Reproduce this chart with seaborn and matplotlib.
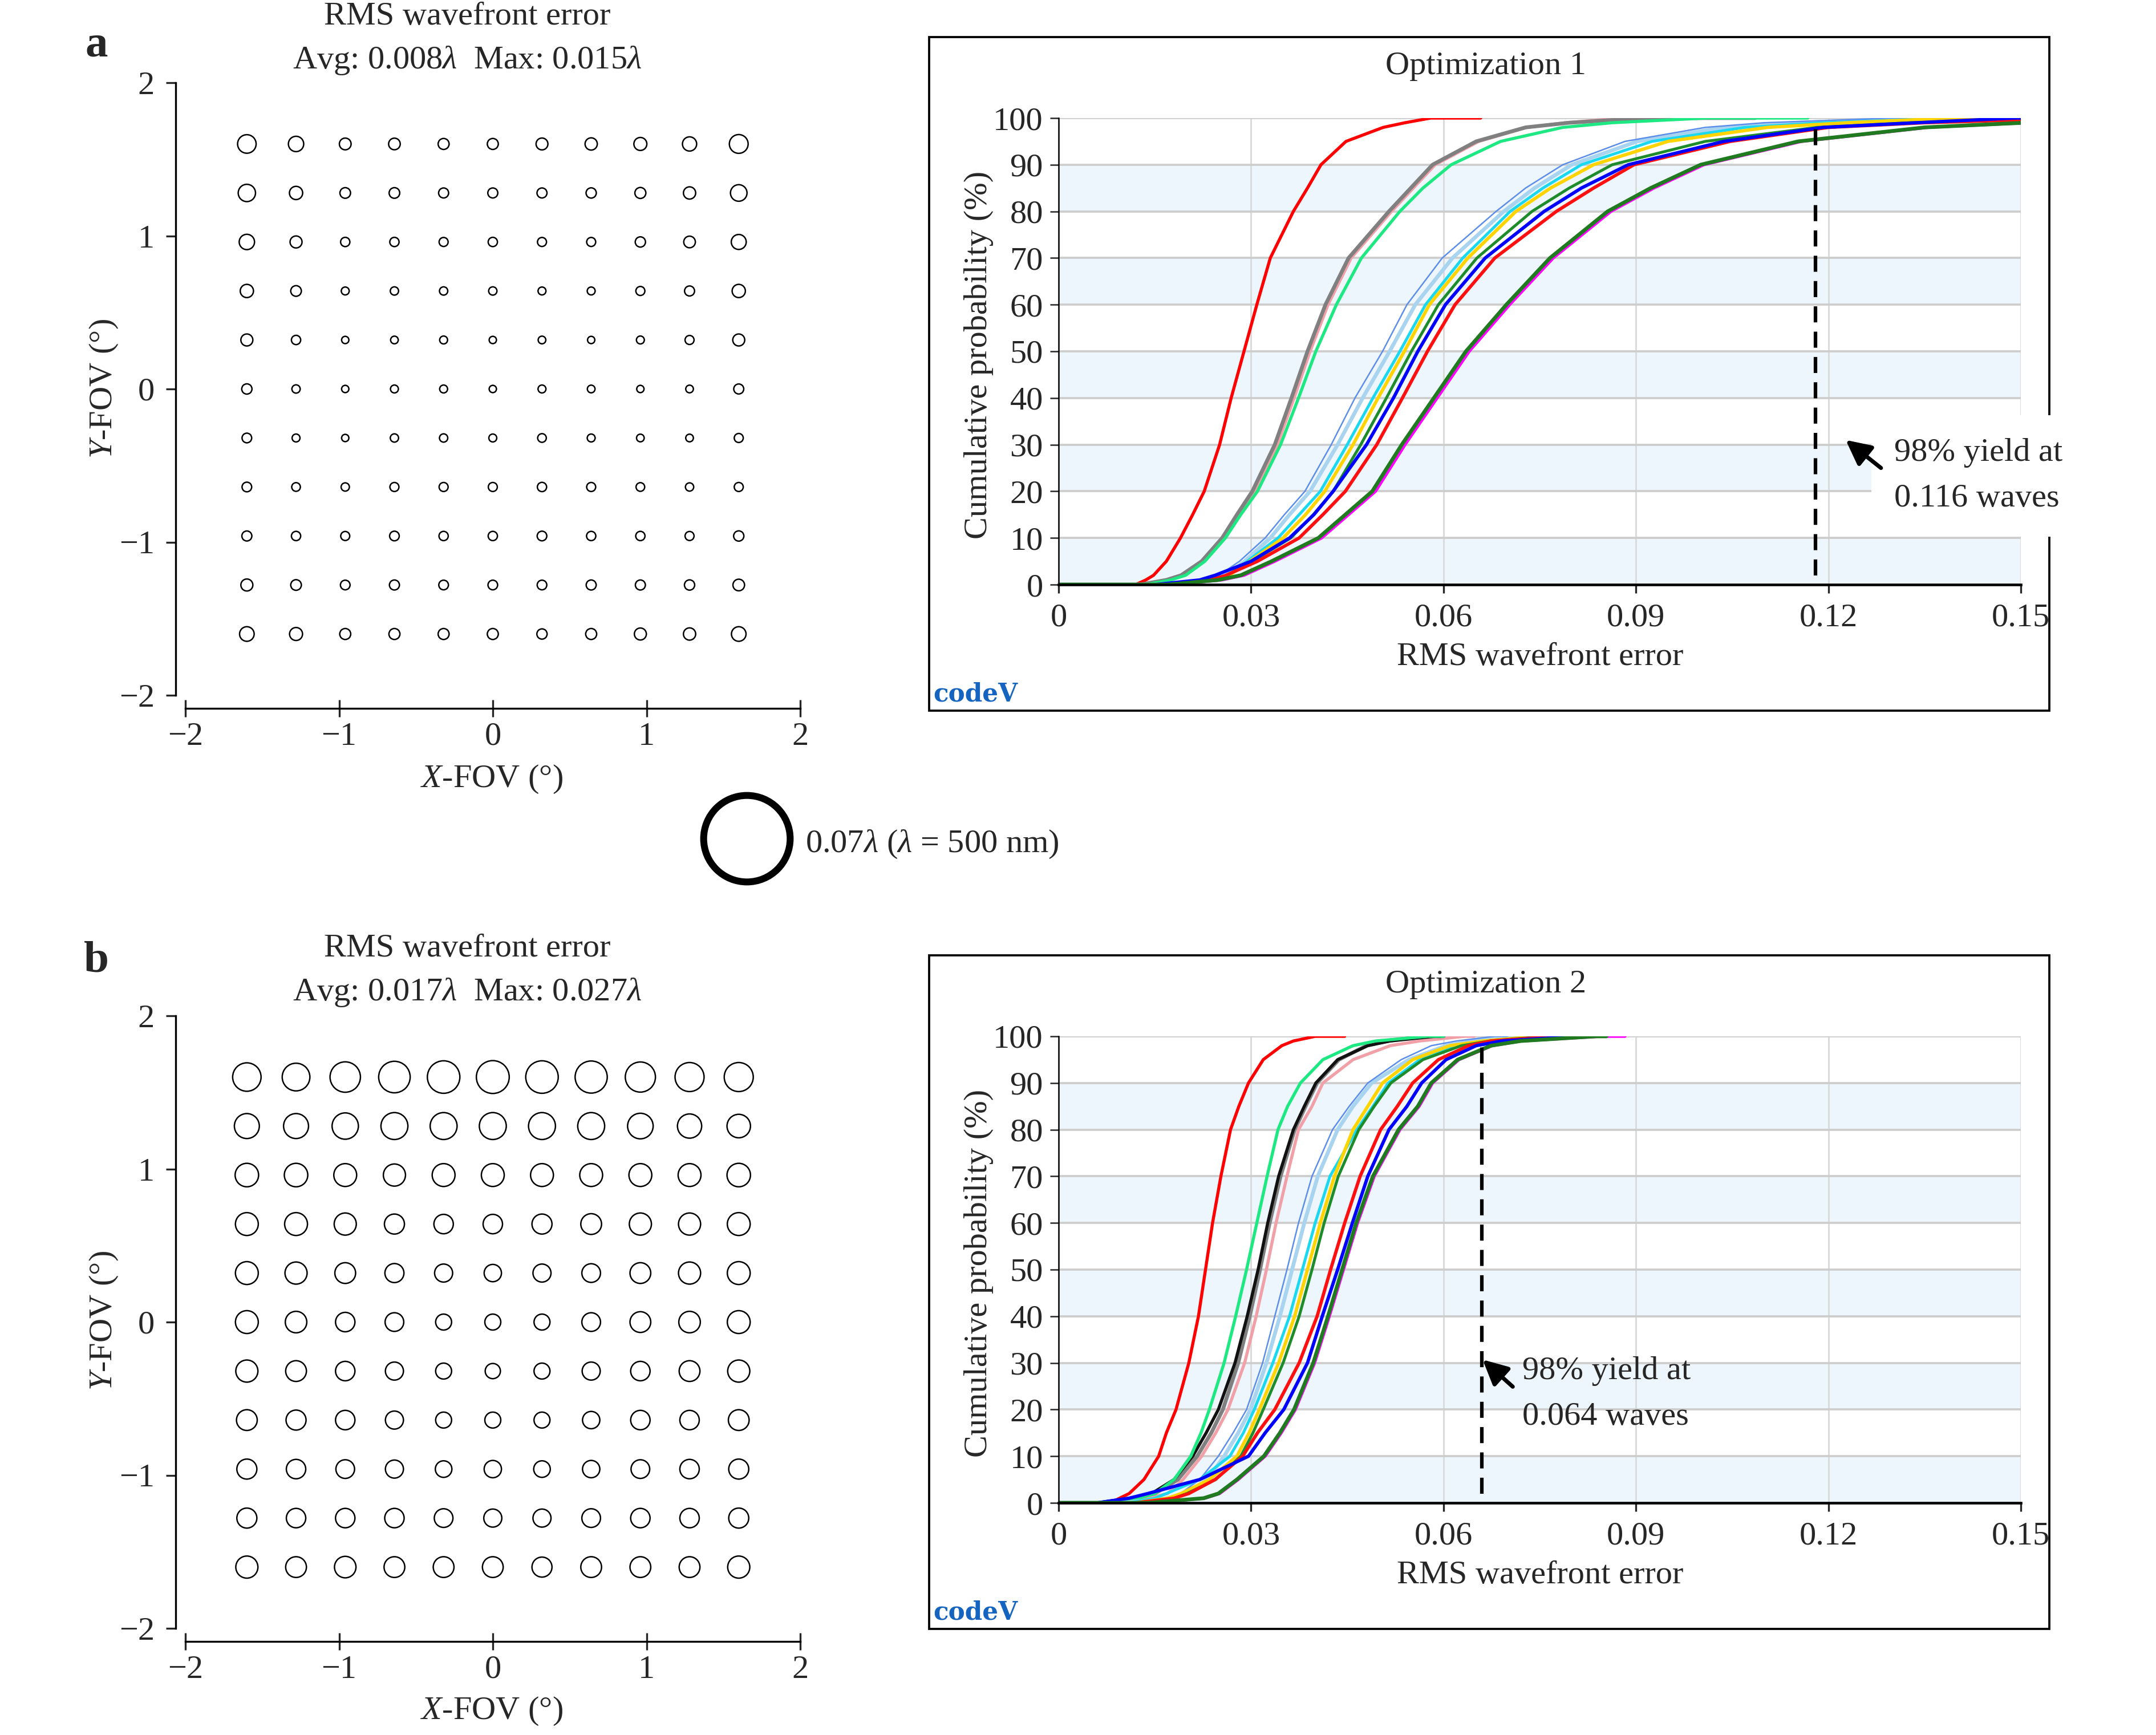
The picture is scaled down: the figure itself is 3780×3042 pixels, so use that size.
import numpy as np
import pandas as pd
import seaborn as sns
import matplotlib.pyplot as plt
from matplotlib.patches import Rectangle

# figure size in pixels (saved at 300 dpi)
W, H = 3780, 3042
DPI = 300

# field grid (deg), rows of the maps go from +1.6 (top) to -1.6 (bottom)
FIELD_POS = [-1.6, -1.28, -0.96, -0.64, -0.32, 0.0, 0.32, 0.64, 0.96, 1.28, 1.6]

# RMS wavefront error per field point (waves), optimization 1
RMS_A = [
    [0.0150, 0.0124, 0.0095, 0.0094, 0.0089, 0.0089, 0.0096, 0.0099, 0.0105, 0.0115, 0.0152],
    [0.0140, 0.0107, 0.0086, 0.0086, 0.0081, 0.0081, 0.0081, 0.0083, 0.0089, 0.0099, 0.0134],
    [0.0124, 0.0097, 0.0075, 0.0075, 0.0073, 0.0075, 0.0073, 0.0073, 0.0083, 0.0094, 0.0121],
    [0.0107, 0.0086, 0.0064, 0.0067, 0.0067, 0.0067, 0.0064, 0.0064, 0.0073, 0.0081, 0.0107],
    [0.0097, 0.0075, 0.0059, 0.0062, 0.0064, 0.0059, 0.0062, 0.0059, 0.0064, 0.0073, 0.0097],
    [0.0083, 0.0067, 0.0059, 0.0064, 0.0064, 0.0059, 0.0064, 0.0062, 0.0059, 0.0062, 0.0081],
    [0.0078, 0.0064, 0.0059, 0.0067, 0.0067, 0.0064, 0.0070, 0.0064, 0.0062, 0.0062, 0.0073],
    [0.0078, 0.0070, 0.0067, 0.0073, 0.0073, 0.0073, 0.0075, 0.0073, 0.0070, 0.0067, 0.0073],
    [0.0081, 0.0075, 0.0073, 0.0078, 0.0075, 0.0075, 0.0078, 0.0075, 0.0075, 0.0073, 0.0083],
    [0.0097, 0.0086, 0.0078, 0.0081, 0.0078, 0.0078, 0.0078, 0.0081, 0.0081, 0.0083, 0.0094],
    [0.0118, 0.0105, 0.0089, 0.0089, 0.0089, 0.0089, 0.0083, 0.0089, 0.0097, 0.0099, 0.0118],
]

# RMS wavefront error per field point (waves), optimization 2
RMS_B = [
    [0.0230, 0.0224, 0.0246, 0.0255, 0.0263, 0.0266, 0.0263, 0.0260, 0.0244, 0.0235, 0.0235],
    [0.0202, 0.0202, 0.0213, 0.0218, 0.0218, 0.0218, 0.0218, 0.0218, 0.0207, 0.0196, 0.0190],
    [0.0190, 0.0190, 0.0185, 0.0179, 0.0185, 0.0185, 0.0185, 0.0185, 0.0185, 0.0185, 0.0190],
    [0.0185, 0.0185, 0.0179, 0.0162, 0.0157, 0.0157, 0.0162, 0.0168, 0.0179, 0.0179, 0.0185],
    [0.0185, 0.0179, 0.0168, 0.0154, 0.0146, 0.0140, 0.0146, 0.0151, 0.0168, 0.0179, 0.0185],
    [0.0185, 0.0174, 0.0157, 0.0151, 0.0129, 0.0129, 0.0129, 0.0151, 0.0168, 0.0174, 0.0185],
    [0.0179, 0.0168, 0.0157, 0.0146, 0.0129, 0.0123, 0.0129, 0.0146, 0.0157, 0.0168, 0.0179],
    [0.0168, 0.0162, 0.0157, 0.0146, 0.0129, 0.0129, 0.0129, 0.0140, 0.0157, 0.0157, 0.0168],
    [0.0162, 0.0157, 0.0151, 0.0146, 0.0134, 0.0140, 0.0134, 0.0140, 0.0151, 0.0157, 0.0162],
    [0.0162, 0.0157, 0.0157, 0.0157, 0.0151, 0.0146, 0.0146, 0.0151, 0.0157, 0.0157, 0.0162],
    [0.0179, 0.0168, 0.0174, 0.0168, 0.0168, 0.0168, 0.0162, 0.0168, 0.0168, 0.0168, 0.0179],
]

RMS_KEY = 0.07  # reference circle (waves)

# cumulative probability levels (%) at which each curve's RMS error was read
PROB_LEVELS = [0, 0, 1, 2, 5, 10, 15, 20, 30, 40, 50, 60, 70, 80, 85, 90, 95, 98, 99, 100, 100]

OPT1 = {
    "red_a":      [0, 0.0120, 0.0136, 0.0148, 0.0168, 0.0190, 0.0209, 0.0227, 0.0251, 0.0269, 0.0289, 0.0309, 0.0330, 0.0366, 0.0388, 0.0409, 0.0448, 0.0506, 0.0540, 0.0580, 0.0658],
    "pink":       [0, 0.0130, 0.0172, 0.0195, 0.0227, 0.0259, 0.0282, 0.0306, 0.0341, 0.0367, 0.0392, 0.0420, 0.0456, 0.0519, 0.0553, 0.0587, 0.0655, 0.0730, 0.0790, 0.0880, 0.0950],
    "grey":       [0, 0.0127, 0.0168, 0.0191, 0.0223, 0.0255, 0.0278, 0.0302, 0.0337, 0.0363, 0.0388, 0.0416, 0.0452, 0.0515, 0.0549, 0.0583, 0.0651, 0.0728, 0.0796, 0.0912, 0.1086],
    "spring":     [0, 0.0135, 0.0175, 0.0198, 0.0228, 0.0260, 0.0284, 0.0310, 0.0346, 0.0374, 0.0401, 0.0433, 0.0472, 0.0532, 0.0568, 0.0612, 0.0689, 0.0786, 0.0863, 0.1010, 0.1168],
    "lightblue":  [0, 0.0150, 0.0238, 0.0261, 0.0290, 0.0330, 0.0360, 0.0392, 0.0435, 0.0474, 0.0516, 0.0556, 0.0614, 0.0694, 0.0742, 0.0800, 0.0902, 0.1037, 0.1153, 0.1347, 0.1500],
    "cornflower": [0, 0.0150, 0.0225, 0.0250, 0.0282, 0.0322, 0.0352, 0.0384, 0.0425, 0.0462, 0.0505, 0.0543, 0.0598, 0.0682, 0.0728, 0.0786, 0.0883, 0.1008, 0.1100, 0.1300, 0.1500],
    "cyan":       [0, 0.0155, 0.0240, 0.0265, 0.0294, 0.0342, 0.0375, 0.0408, 0.0450, 0.0490, 0.0532, 0.0572, 0.0630, 0.0704, 0.0755, 0.0815, 0.0925, 0.1070, 0.1190, 0.1400, 0.1500],
    "gold":       [0, 0.0158, 0.0240, 0.0266, 0.0298, 0.0350, 0.0385, 0.0415, 0.0459, 0.0498, 0.0539, 0.0578, 0.0638, 0.0713, 0.0767, 0.0834, 0.0950, 0.1105, 0.1230, 0.1395, 0.1500],
    "green":      [0, 0.0160, 0.0235, 0.0262, 0.0302, 0.0362, 0.0397, 0.0428, 0.0471, 0.0511, 0.0550, 0.0592, 0.0652, 0.0738, 0.0796, 0.0863, 0.1008, 0.1182, 0.1327, 0.1600, 0.1600],
    "blue":       [0, 0.0150, 0.0220, 0.0244, 0.0300, 0.0360, 0.0398, 0.0428, 0.0480, 0.0522, 0.0560, 0.0603, 0.0665, 0.0757, 0.0815, 0.0888, 0.1037, 0.1192, 0.1337, 0.1490, 0.1600],
    "red_b":      [0, 0.0160, 0.0238, 0.0261, 0.0310, 0.0375, 0.0412, 0.0447, 0.0496, 0.0536, 0.0575, 0.0618, 0.0680, 0.0776, 0.0834, 0.0897, 0.1047, 0.1200, 0.1350, 0.1600, 0.1600],
    "magenta":    [0, 0.0175, 0.0254, 0.0289, 0.0337, 0.0410, 0.0452, 0.0494, 0.0540, 0.0590, 0.0640, 0.0703, 0.0771, 0.0861, 0.0928, 0.1006, 0.1158, 0.1355, 0.1510, 0.1700, 0.1700],
    "darkgreen":  [0, 0.0170, 0.0249, 0.0284, 0.0332, 0.0405, 0.0447, 0.0489, 0.0535, 0.0585, 0.0635, 0.0698, 0.0766, 0.0856, 0.0923, 0.1001, 0.1153, 0.1350, 0.1505, 0.1700, 0.1700],
}

OPT2 = {
    "red_a":      [0, 0.0081, 0.0095, 0.0110, 0.0133, 0.0156, 0.0168, 0.0183, 0.0203, 0.0218, 0.0229, 0.0240, 0.0253, 0.0268, 0.0281, 0.0296, 0.0319, 0.0348, 0.0366, 0.0400, 0.0446],
    "pink":       [0, 0.0080, 0.0140, 0.0170, 0.0194, 0.0223, 0.0245, 0.0264, 0.0290, 0.0308, 0.0324, 0.0339, 0.0356, 0.0374, 0.0395, 0.0412, 0.0459, 0.0517, 0.0563, 0.0633, 0.0648],
    "grey":       [0, 0.0065, 0.0115, 0.0150, 0.0186, 0.0216, 0.0238, 0.0256, 0.0280, 0.0298, 0.0314, 0.0329, 0.0346, 0.0368, 0.0385, 0.0403, 0.0437, 0.0480, 0.0512, 0.0570, 0.0600],
    "black":      [0, 0.0060, 0.0110, 0.0145, 0.0180, 0.0209, 0.0230, 0.0249, 0.0275, 0.0294, 0.0311, 0.0326, 0.0343, 0.0366, 0.0383, 0.0401, 0.0435, 0.0482, 0.0517, 0.0587, 0.0595],
    "spring":     [0, 0.0080, 0.0125, 0.0150, 0.0180, 0.0206, 0.0222, 0.0235, 0.0258, 0.0276, 0.0293, 0.0309, 0.0325, 0.0342, 0.0357, 0.0377, 0.0412, 0.0459, 0.0494, 0.0575, 0.0600],
    "lightblue":  [0, 0.0100, 0.0170, 0.0198, 0.0232, 0.0258, 0.0280, 0.0299, 0.0324, 0.0345, 0.0364, 0.0383, 0.0404, 0.0435, 0.0459, 0.0488, 0.0546, 0.0604, 0.0645, 0.0720, 0.0740],
    "cornflower": [0, 0.0100, 0.0165, 0.0190, 0.0220, 0.0249, 0.0272, 0.0293, 0.0318, 0.0337, 0.0356, 0.0374, 0.0395, 0.0427, 0.0453, 0.0482, 0.0534, 0.0581, 0.0620, 0.0680, 0.0700],
    "cyan":       [0, 0.0110, 0.0150, 0.0168, 0.0220, 0.0267, 0.0288, 0.0305, 0.0334, 0.0360, 0.0380, 0.0400, 0.0423, 0.0465, 0.0490, 0.0514, 0.0563, 0.0622, 0.0665, 0.0740, 0.0760],
    "gold":       [0, 0.0120, 0.0170, 0.0191, 0.0235, 0.0278, 0.0297, 0.0313, 0.0343, 0.0368, 0.0388, 0.0408, 0.0430, 0.0459, 0.0482, 0.0505, 0.0552, 0.0610, 0.0662, 0.0749, 0.0770],
    "green":      [0, 0.0130, 0.0180, 0.0200, 0.0245, 0.0284, 0.0303, 0.0319, 0.0350, 0.0375, 0.0395, 0.0414, 0.0436, 0.0468, 0.0492, 0.0518, 0.0568, 0.0628, 0.0672, 0.0760, 0.0780],
    "red_b":      [0, 0.0120, 0.0180, 0.0203, 0.0244, 0.0287, 0.0310, 0.0337, 0.0375, 0.0403, 0.0424, 0.0446, 0.0470, 0.0502, 0.0528, 0.0552, 0.0592, 0.0639, 0.0674, 0.0778, 0.0800],
    "blue":       [0, 0.0060, 0.0110, 0.0139, 0.0220, 0.0296, 0.0322, 0.0351, 0.0388, 0.0411, 0.0435, 0.0458, 0.0482, 0.0515, 0.0543, 0.0566, 0.0604, 0.0651, 0.0691, 0.0808, 0.0830],
    "magenta":    [0, 0.0142, 0.0228, 0.0251, 0.0280, 0.0322, 0.0347, 0.0369, 0.0399, 0.0422, 0.0444, 0.0466, 0.0492, 0.0532, 0.0562, 0.0583, 0.0624, 0.0676, 0.0722, 0.0845, 0.0883],
    "darkgreen":  [0, 0.0139, 0.0226, 0.0249, 0.0278, 0.0320, 0.0345, 0.0367, 0.0397, 0.0420, 0.0442, 0.0464, 0.0490, 0.0530, 0.0560, 0.0581, 0.0622, 0.0674, 0.0720, 0.0837, 0.0854],
}

# 98% yield marker (waves) and its label
YIELD_X = [0.1180, 0.0660]
YIELD_TEXT = ["98% yield at\n0.116 waves", "98% yield at\n0.064 waves"]

X_TICKS = [0, 0.03, 0.06, 0.09, 0.12, 0.15]
X_TICK_LABELS = ["0", "0.03", "0.06", "0.09", "0.12", "0.15"]
Y_TICKS = list(range(0, 101, 10))
FOV_TICKS = [-2, -1, 0, 1, 2]

# drawing order, colour and width of the curves
CURVE_STYLES = [
    ("red_a", "#FF0000", 1.3),
    ("pink", "#F2A0A8", 1.3),
    ("grey", "#808080", 1.6),
    ("black", "#111111", 1.3),
    ("spring", "#1EE882", 1.3),
    ("lightblue", "#A8D4F0", 1.6),
    ("cornflower", "#5B8DEB", 0.6),
    ("cyan", "#19D8F0", 1.2),
    ("gold", "#FFD400", 1.4),
    ("green", "#1E8C2A", 1.2),
    ("red_b", "#FF1010", 1.4),
    ("blue", "#0000FF", 1.4),
    ("magenta", "#FF00FF", 1.3),
    ("darkgreen", "#207A20", 1.6),
]

DIAM_PT = 520.0  # marker diameter in points per wave of RMS error
BAND = "#EEF6FD"

sns.set_style("ticks")
plt.rcParams["font.family"] = ["Liberation Serif", "DejaVu Serif"]
plt.rcParams["mathtext.fontset"] = "custom"
plt.rcParams["mathtext.rm"] = "Liberation Serif"
plt.rcParams["mathtext.it"] = "Liberation Serif:italic"
plt.rcParams["mathtext.bf"] = "Liberation Serif:bold"
plt.rcParams["axes.unicode_minus"] = True

fig = plt.figure(figsize=(W / DPI, H / DPI), dpi=DPI)


def fx(px):
    return px / W


def fy(py):
    return 1 - py / H


def axes_at(left, top, w, h):
    return fig.add_axes([fx(left), fy(top + h), w / W, h / H])


def field_map(ax, rms):
    ys = FIELD_POS[::-1]
    rows = [(FIELD_POS[j], ys[i], v) for i, r in enumerate(rms) for j, v in enumerate(r)]
    df = pd.DataFrame(rows, columns=["x", "y", "rms"])
    sns.scatterplot(data=df, x="x", y="y", s=(df["rms"].to_numpy() * DIAM_PT) ** 2,
                    color="white", edgecolor="black", linewidth=0.6,
                    legend=False, ax=ax, zorder=3)
    ax.set_xlim(-2, 2)
    ax.set_ylim(-2, 2)
    ax.set_xticks(FOV_TICKS)
    ax.set_yticks(FOV_TICKS)
    ax.set_xlabel("")
    ax.set_ylabel("")
    sns.despine(ax=ax, offset={"left": 4, "bottom": 5.5})
    for side in ["left", "bottom"]:
        ax.spines[side].set_bounds(-2, 2)
        ax.spines[side].set_linewidth(0.8)
        ax.spines[side].set_color("black")
    ax.tick_params(axis="x", direction="inout", length=7, width=0.8, pad=2.2, labelsize=14)
    ax.tick_params(axis="y", direction="out", length=4, width=0.8, pad=5, labelsize=14)
    ax.patch.set_alpha(0)


def cdf_panel(ax, curves, k):
    for lo in range(0, 100, 20):
        ax.axhspan(lo, lo + 10, color=BAND, lw=0, zorder=0)
    for name, color, lw in CURVE_STYLES:
        if name in curves:
            sns.lineplot(x=curves[name], y=PROB_LEVELS, color=color, lw=lw,
                         estimator=None, sort=False, ax=ax, zorder=2)
    ax.plot([YIELD_X[k], YIELD_X[k]], [2, 99], color="black", lw=1.5,
            dashes=(4.5, 2.6), zorder=4)
    ax.set_xlim(0, 0.15)
    ax.set_ylim(0, 100)
    ax.set_xticks(X_TICKS)
    ax.set_xticklabels(X_TICK_LABELS)
    ax.set_yticks(Y_TICKS)
    ax.set_xlabel("")
    ax.set_ylabel("")
    ax.set_axisbelow(True)
    ax.grid(True, axis="y", color="#CDCDCD", lw=0.9)
    ax.grid(True, axis="x", color="#DADADA", lw=0.7)
    for side in ["top", "right"]:
        ax.spines[side].set_visible(False)
    ax.spines["left"].set_color("black")
    ax.spines["left"].set_linewidth(0.6)
    ax.spines["bottom"].set_color("black")
    ax.spines["bottom"].set_linewidth(1.1)
    ax.tick_params(axis="y", direction="out", length=3.5, width=0.6, pad=3, labelsize=14)
    ax.tick_params(axis="x", direction="out", length=3.5, width=0.8, pad=4.2, labelsize=14)


# ---- field maps ----
MAP_LEFT, MAP_W, MAP_H = 325, 1078, 1074
ax_a = axes_at(MAP_LEFT, 145, MAP_W, MAP_H)
field_map(ax_a, RMS_A)
ax_b = axes_at(MAP_LEFT, 1781, MAP_W, MAP_H)
field_map(ax_b, RMS_B)

for dy, label, avg, mx in [(0, "a", "0.008", "0.015"), (1634, "b", "0.017", "0.027")]:
    fig.text(fx(169), fy(80 + dy * 0.982), label, fontsize=19, fontweight="bold",
             ha="center", va="center")
    fig.text(fx(819), fy(29 + dy), "RMS wavefront error", fontsize=14, ha="center", va="center")
    fig.text(fx(819), fy(106 + dy), rf"Avg: {avg}$\lambda$  Max: {mx}$\lambda$",
             fontsize=14, ha="center", va="center")
    fig.text(fx(862), fy(1366 + dy), r"$X$-FOV (°)", fontsize=14, ha="center", va="center")
    fig.text(fx(182), fy(682 + dy), r"$Y$-FOV (°)", fontsize=14, ha="center", va="center",
             rotation=90)

# reference circle
ax_key = axes_at(1209, 1370, 200, 200)
sns.scatterplot(x=[0], y=[0], s=[(RMS_KEY * DIAM_PT) ** 2], color="white",
                edgecolor="black", linewidth=2.9, legend=False, ax=ax_key)
ax_key.set_xlim(-1, 1)
ax_key.set_ylim(-1, 1)
ax_key.axis("off")
fig.text(fx(1412), fy(1480), r"0.07$\lambda$ ($\lambda$ = 500 nm)", fontsize=14,
         ha="left", va="center")

# ---- cumulative probability panels ----
panels = [(OPT1, 0, "Optimization 1"), (OPT2, 1610, "Optimization 2")]
text_pos = [(0.1303, 23.3), (0.0723, 23.4)]
arrow_pts = [((0.1227, 31.0), (0.1282, 25.0)), ((0.0661, 30.7), (0.0708, 24.9))]

for k, (curves, dy, title) in enumerate(panels):
    fig.add_artist(Rectangle((fx(1629), fy(1246 + dy)), (3593 - 1629) / W, (1246 - 65) / H,
                             transform=fig.transFigure, fill=False, ec="black", lw=0.9,
                             zorder=-1))
    ax = axes_at(1856, 207 + dy, 1687, 818)
    cdf_panel(ax, curves, k)
    fig.text(fx(2605), fy(116 + dy), title, fontsize=14, ha="center", va="center")
    fig.text(fx(2700), fy(1152 + dy), "RMS wavefront error", fontsize=14, ha="center", va="center")
    fig.text(fx(1716), fy(622 + dy), "Cumulative probability (%)", fontsize=14,
             ha="center", va="center", rotation=90)
    fig.text(fx(1636), fy(1217 + dy), "codeV", fontsize=10.5, fontweight="bold",
             family="DejaVu Serif", color="#1565C0", ha="left", va="center")

    head, tail = arrow_pts[k]
    ax.annotate("", xy=head, xytext=tail,
                arrowprops=dict(arrowstyle="-|>", color="black", lw=1.7,
                                mutation_scale=22, shrinkA=0, shrinkB=0),
                annotation_clip=False, zorder=6)
    box = dict(boxstyle="square,pad=0.7", fc="white", ec="none") if k == 0 else None
    ax.text(text_pos[k][0], text_pos[k][1], YIELD_TEXT[k], fontsize=14, ha="left",
            va="center", linespacing=1.7, bbox=box, clip_on=False, zorder=5)

fig.savefig("out.png", dpi=DPI)
